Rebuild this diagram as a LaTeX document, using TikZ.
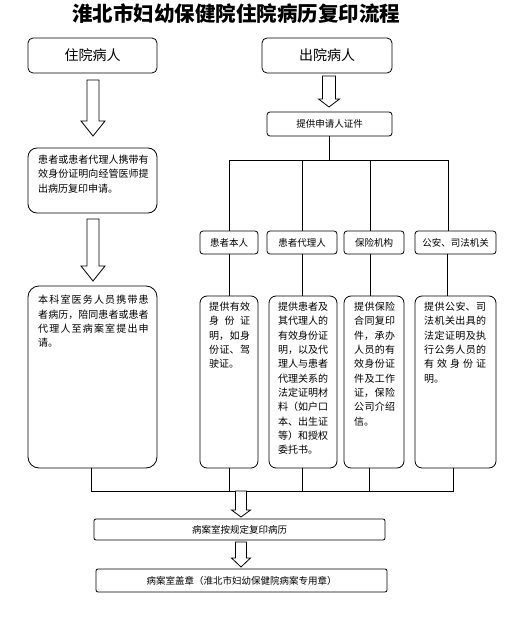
\documentclass[tikz,border=0pt]{standalone}
\usepackage{fontspec}
\setmainfont{Noto Sans CJK SC}
\XeTeXlinebreaklocale "zh"
\XeTeXlinebreakskip=0pt plus 1pt
\usetikzlibrary{calc}
\tikzset{
  x=1pt, y=-1pt,
  ln/.style={draw=black, line width=0.8pt},
  sbox/.style={draw=black, line width=0.8pt, rounded corners=3pt, inner sep=0pt, fill=white},
  rbox/.style={draw=black, line width=0.8pt, rounded corners=7pt, inner sep=0pt, fill=white},
  bigtxt/.style={font=\fontsize{14}{16}\selectfont},
  smtxt/.style={font=\fontsize{9.5}{11}\selectfont},
  txt/.style={font=\fontsize{10}{14.3}\selectfont, inner sep=0pt, align=justify, anchor=north west},
  blk/.style={draw=black, line width=0.8pt, fill=white, line join=miter},
}
% box: style, name, x1, y1, x2, y2, text
\newcommand\bx[7]{\node[#1, minimum width={(#5-#3)*1pt}, minimum height={(#6-#4)*1pt}] (#2) at ({(#3+#5)/2},{(#4+#6)/2}) {#7};}
% block arrow: x, top, head start, tip, shaft half width, head half width
\newcommand\blockarr[6]{\draw[blk] (#1-#5,#2) -- (#1+#5,#2) -- (#1+#5,#3) -- (#1+#6,#3) -- (#1,#4) -- (#1-#6,#3) -- (#1-#5,#3) -- cycle;}
\begin{document}
\begin{tikzpicture}
\useasboundingbox[fill=white] (0,0) rectangle (510,620);

\node[font=\fontsize{20.5}{24}\selectfont\bfseries, inner sep=0pt] (title) at (236,14) {淮北市妇幼保健院住院病历复印流程};

% top boxes
\bx{sbox,bigtxt,rounded corners=5pt}{zy}{28}{38}{157}{73}{住院病人}
\bx{sbox,bigtxt,rounded corners=5pt}{cy}{262}{38}{392}{73}{出院病人}
\bx{sbox,smtxt}{tg}{267}{112}{392}{136}{提供申请人证件}

% left column
\bx{rbox,rounded corners=9pt}{bA}{28}{148}{157}{213}{}
\node[txt, text width=110.5pt] (bAt) at (38,155) {\noindent 患者或患者代理人携带有\linebreak 效身份证明向经管医师提\linebreak 出病历复印申请。};
\bx{rbox,rounded corners=11pt}{bB}{28}{286}{157}{468}{}
\node[txt, text width=110.5pt] (bBt) at (38,295) {\noindent 本科室医务人员携带患\linebreak 者病历，陪同患者或患者\linebreak 代理人至病案室提出申\linebreak 请。};

% level 2 boxes
\bx{sbox,smtxt}{c1}{200}{231}{258}{254}{患者本人}
\bx{sbox,smtxt}{c2}{267}{231}{337}{254}{患者代理人}
\bx{sbox,smtxt}{c3}{344}{231}{404}{254}{保险机构}
\bx{sbox,smtxt}{c4}{415}{231}{496}{254}{公安、司法机关}

% level 3 boxes
\bx{rbox}{d1}{200}{296}{258}{468}{}
\bx{rbox}{d2}{269}{296}{337}{468}{}
\bx{rbox}{d3}{344}{296}{404}{468}{}
\bx{rbox}{d4}{415}{296}{496}{468}{}
\node[txt, text width=41pt] (d1t) at (209,302) {\noindent 提供有效\linebreak 身份证\linebreak 明，如身\linebreak 份证、驾\linebreak 驶证。};
\node[txt, text width=50pt] (d2t) at (278,302) {\noindent 提供患者及\linebreak 其代理人的\linebreak 有效身份证\linebreak 明，以及代\linebreak 理人与患者\linebreak 代理关系的\linebreak 法定证明材\linebreak 料（如户口\linebreak 本、出生证\linebreak 等）和授权\linebreak 委托书。};
\node[txt, text width=41pt] (d3t) at (354,302) {\noindent 提供保险\linebreak 合同复印\linebreak 件，承办\linebreak 人员的有\linebreak 效身份证\linebreak 件及工作\linebreak 证，保险\linebreak 公司介绍\linebreak 信。};
\node[txt, text width=62pt] (d4t) at (424,302) {\noindent 提供公安、司\linebreak 法机关出具的\linebreak 法定证明及执\linebreak 行公务人员的\linebreak 有效身份证\linebreak 明。};

% bottom boxes
\bx{sbox,smtxt,rounded corners=2pt}{fy}{94}{519}{385}{540}{病案室按规定复印病历}
\bx{sbox,smtxt,rounded corners=2pt}{gz}{96}{569}{387}{592}{病案室盖章（淮北市妇幼保健院病案专用章）}

% connectors
\coordinate (h1) at (0,160);
\coordinate (h2) at (0,491);
\draw[ln] (tg.south) -- (tg.south |- h1);
\draw[ln] (c1.north |- h1) -- ([xshift=-7pt]c4.north |- h1);
\draw[ln] (c1.north |- h1) -- (c1.north);
\draw[ln] (c2.north |- h1) -- (c2.north);
\draw[ln] ([xshift=-4pt]c3.north |- h1) -- ([xshift=-4pt]c3.north);
\draw[ln] ([xshift=-7pt]c4.north |- h1) -- ([xshift=-7pt]c4.north);

\draw[ln] (c1.south) -- (d1.north);
\draw[ln] (c2.south) -- (c2.south |- d2.north);
\draw[ln] ([xshift=-4pt]c3.south) -- ([xshift=-4pt]c3.south |- d3.north);
\draw[ln] ([xshift=-8pt]c4.south) -- ([xshift=-8pt]c4.south |- d4.north);

\draw[ln] ([xshift=-1.5pt]bB.south) -- ([xshift=-1.5pt]bB.south |- h2) -- ([xshift=-2pt]d4.south |- h2) -- ([xshift=-2pt]d4.south);
\draw[ln] (d1.south) -- (d1.south |- h2);
\draw[ln] ([xshift=-1pt]d2.south) -- ([xshift=-1pt]d2.south |- h2);
\draw[ln] ([xshift=-5pt]d3.south) -- ([xshift=-5pt]d3.south |- h2);

% block arrows
\blockarr{93}{80}{121}{136}{6}{12}
\blockarr{93}{219}{266}{281}{6}{12}
\blockarr{329}{76}{99}{107}{6.5}{10.5}
\blockarr{241}{491}{510}{517}{5.5}{9.5}
\blockarr{241}{542}{558}{567}{5.5}{9.5}
\end{tikzpicture}
\end{document}
